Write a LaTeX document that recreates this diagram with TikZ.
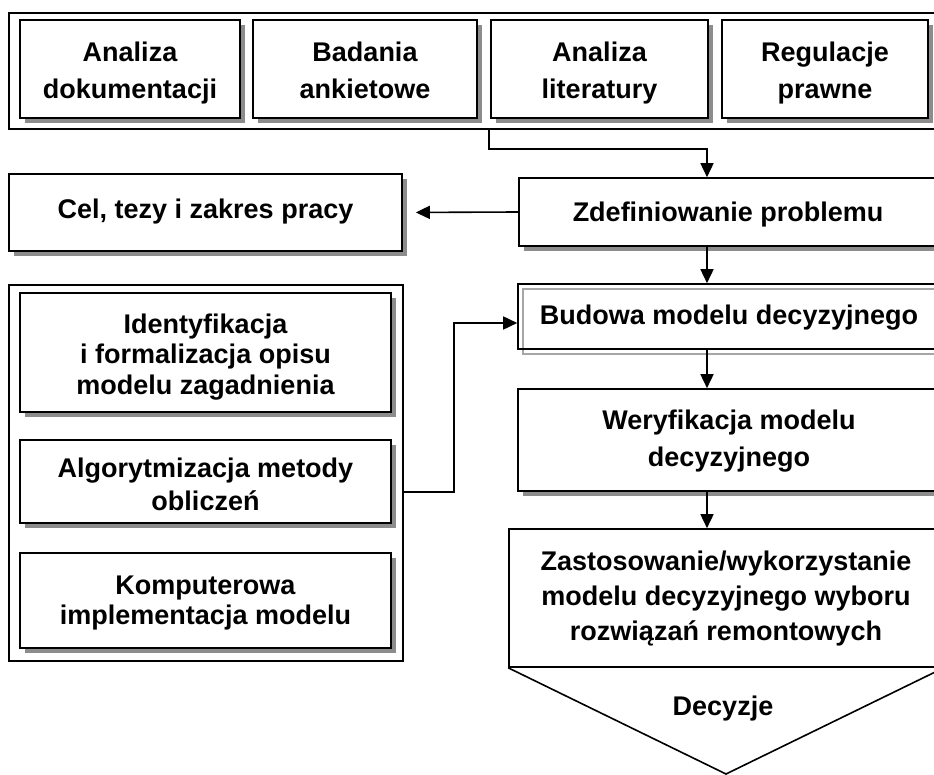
\documentclass[tikz,border=0pt]{standalone}
\usepackage{fontspec}
\setmainfont{Liberation Sans}
\usetikzlibrary{shadows,arrows.meta}
\newcommand\firstl[1][28]{\rule{0pt}{#1pt}}
\newcommand\lastl{\rule[-8pt]{0pt}{8pt}}
\begin{document}
\begin{tikzpicture}[x=1pt,y=-1pt,
  lw/.style={line width=1.6pt},
  arr/.style={lw, -{Triangle[length=14pt,width=13pt]}},
  txt/.style={inner sep=0pt, align=center, font=\fontsize{27}{#1}\selectfont\bfseries},
  txt/.default=37,
  frame/.style={draw, lw, inner sep=0pt},
  sbox/.style={draw, lw, fill=white, inner sep=0pt, align=center,
    font=\fontsize{27}{#1}\selectfont\bfseries,
    general shadow={fill=black!45, shadow xshift=5pt, shadow yshift=-5pt}},
  sbox/.default=37
]
\useasboundingbox (0,0) rectangle (934,775);
\clip (0,0) rectangle (934,775);

% top group
\node[frame, minimum width=936pt, minimum height=116pt] (top) at (477,71) {};
\node[sbox, minimum width=220pt, minimum height=98pt] (a1) at (130,69) {\firstl[31]Analiza\\dokumentacji\lastl};
\node[sbox, minimum width=224pt, minimum height=98pt] (a2) at (365,69) {\firstl[31]Badania\\ankietowe\lastl};
\node[sbox, minimum width=217pt, minimum height=98pt] (a3) at (599.5,69) {\firstl[31]Analiza\\literatury\lastl};
\node[sbox, minimum width=206pt, minimum height=98pt] (a4) at (825,69) {\firstl[31]Regulacje\\prawne\lastl};

% right column
\node[sbox, minimum width=418pt, minimum height=68pt] (zdef) at (728,212) {\firstl[28]Zdefiniowanie problemu\lastl};
\node[sbox, minimum width=393pt, minimum height=77pt] (cel) at (205.5,212.5) {\firstl[18]Cel, tezy i zakres pracy\lastl};

\draw[gray!70, line width=1.3pt] (523,289) rectangle (945,354);
\node[frame, align=center, font=\fontsize{27}{37}\selectfont\bfseries,
  minimum width=422pt, minimum height=65pt] (bud) at (729,316.5) {\firstl[25]Budowa modelu decyzyjnego\lastl};

\node[sbox, minimum width=422pt, minimum height=102pt] (wer) at (729,440) {\firstl[23]Weryfikacja modelu\\decyzyjnego\lastl};

\node[frame, align=center, font=\fontsize{27}{35}\selectfont\bfseries,
  minimum width=434pt, minimum height=138pt] (zast) at (726,598)
  {\firstl[22]Zastosowanie/wykorzystanie\\modelu decyzyjnego wyboru\\rozwiązań remontowych\lastl};
\coordinate (tip) at (726,774);
\draw[lw, line join=miter] (zast.south west) -- (tip) -- (zast.south east);
\node[txt] (dec) at (723,705) {\firstl[28]Decyzje\lastl};

% left group
\node[frame, minimum width=394pt, minimum height=376pt] (leftc) at (206,473) {};
\node[sbox=30.5, minimum width=371pt, minimum height=119pt] (ident) at (205.5,352.5) {\firstl[30]Identyfikacja\\i formalizacja opisu\\modelu zagadnienia\lastl};
\node[sbox=33, minimum width=371pt, minimum height=83pt] (alg) at (205.5,481.5) {\firstl[32]Algorytmizacja metody\\obliczeń\lastl};
\node[sbox=30, minimum width=371pt, minimum height=95pt] (komp) at (205.5,600.5) {\firstl[25]Komputerowa\\implementacja modelu\lastl};

% connectors
\coordinate (ax) at (707,0);
\coordinate (d1) at (489,0);
\draw[arr] (top.south -| d1) -- ++(0,19) -| (zdef.north -| ax);
\draw[arr, shorten >=13pt] (zdef.west) -- (cel.east);
\draw[arr] (zdef.south -| ax) -- (bud.north -| ax);
\draw[arr] (bud.south -| ax) -- (wer.north -| ax);
\draw[arr] (wer.south -| ax) -- (zast.north -| ax);
\coordinate (j1) at (454,492);
\coordinate (j2) at (454,323);
\draw[arr] (leftc.east |- j1) -- (j1) -- (j2) -- (bud.west |- j2);
\end{tikzpicture}
\end{document}
